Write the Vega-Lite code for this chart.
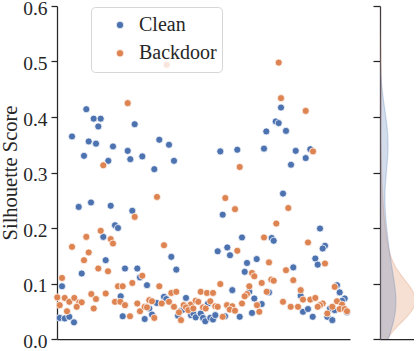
{
  "$schema": "https://vega.github.io/schema/vega-lite/v6.json",
  "autosize": {"type": "pad"},
  "padding": {"left": 0, "top": -2, "right": 0, "bottom": 0},
  "background": "white",
  "spacing": 30,
  "bounds": "flush",
  "config": {
    "font": "Liberation Serif",
    "view": {"stroke": null},
    "axis": {
      "grid": false,
      "domainColor": "#262626",
      "tickColor": "#262626",
      "labelColor": "#262626",
      "titleColor": "#262626",
      "domainWidth": 1.25,
      "tickWidth": 1.25,
      "labelFont": "Liberation Serif",
      "titleFont": "Liberation Serif",
      "labelFontSize": 19.5,
      "titleFontSize": 20.5,
      "titleFontWeight": "normal",
      "tickSize": 6,
      "labelPadding": 4,
      "titlePadding": 2
    }
  },
  "datasets": {
    "pts": [
      {"x":88.3,"y":0.414,"s":"Clean"},{"x":95.7,"y":0.397,"s":"Clean"},{"x":102.7,"y":0.397,"s":"Clean"},{"x":100.3,"y":0.383,"s":"Clean"},{"x":136.7,"y":0.387,"s":"Clean"},{"x":74,"y":0.365,"s":"Clean"},{"x":90.7,"y":0.356,"s":"Clean"},{"x":98,"y":0.352,"s":"Clean"},{"x":115,"y":0.347,"s":"Clean"},{"x":129.7,"y":0.339,"s":"Clean"},{"x":86,"y":0.330,"s":"Clean"},{"x":132.3,"y":0.324,"s":"Clean"},{"x":110.3,"y":0.321,"s":"Clean"},{"x":80.7,"y":0.238,"s":"Clean"},{"x":93,"y":0.246,"s":"Clean"},{"x":112.7,"y":0.240,"s":"Clean"},{"x":134.3,"y":0.231,"s":"Clean"},{"x":117,"y":0.205,"s":"Clean"},{"x":120,"y":0.200,"s":"Clean"},{"x":105.3,"y":0.184,"s":"Clean"},{"x":107.7,"y":0.142,"s":"Clean"},{"x":127,"y":0.127,"s":"Clean"},{"x":83.7,"y":0.118,"s":"Clean"},{"x":64,"y":0.095,"s":"Clean"},{"x":122.7,"y":0.077,"s":"Clean"},{"x":61.7,"y":0.038,"s":"Clean"},{"x":66.7,"y":0.037,"s":"Clean"},{"x":71.3,"y":0.040,"s":"Clean"},{"x":76,"y":0.030,"s":"Clean"},{"x":124.7,"y":0.041,"s":"Clean"},{"x":144.3,"y":0.329,"s":"Clean"},{"x":161.3,"y":0.359,"s":"Clean"},{"x":171,"y":0.350,"s":"Clean"},{"x":176,"y":0.321,"s":"Clean"},{"x":156.3,"y":0.306,"s":"Clean"},{"x":173.3,"y":0.148,"s":"Clean"},{"x":178.3,"y":0.125,"s":"Clean"},{"x":139.3,"y":0.127,"s":"Clean"},{"x":142,"y":0.111,"s":"Clean"},{"x":149,"y":0.097,"s":"Clean"},{"x":188,"y":0.074,"s":"Clean"},{"x":158.7,"y":0.065,"s":"Clean"},{"x":166,"y":0.076,"s":"Clean"},{"x":168.3,"y":0.072,"s":"Clean"},{"x":151.3,"y":0.055,"s":"Clean"},{"x":183,"y":0.051,"s":"Clean"},{"x":185.3,"y":0.053,"s":"Clean"},{"x":146.7,"y":0.036,"s":"Clean"},{"x":154,"y":0.044,"s":"Clean"},{"x":193,"y":0.043,"s":"Clean"},{"x":195.3,"y":0.046,"s":"Clean"},{"x":197.7,"y":0.039,"s":"Clean"},{"x":202.7,"y":0.046,"s":"Clean"},{"x":205,"y":0.038,"s":"Clean"},{"x":207.3,"y":0.032,"s":"Clean"},{"x":180,"y":0.042,"s":"Clean"},{"x":283,"y":0.417,"s":"Clean"},{"x":277.7,"y":0.392,"s":"Clean"},{"x":280.7,"y":0.389,"s":"Clean"},{"x":268.3,"y":0.374,"s":"Clean"},{"x":222.3,"y":0.338,"s":"Clean"},{"x":239.3,"y":0.341,"s":"Clean"},{"x":266,"y":0.343,"s":"Clean"},{"x":285,"y":0.262,"s":"Clean"},{"x":224.7,"y":0.224,"s":"Clean"},{"x":244,"y":0.183,"s":"Clean"},{"x":273.7,"y":0.182,"s":"Clean"},{"x":275.7,"y":0.177,"s":"Clean"},{"x":219.7,"y":0.158,"s":"Clean"},{"x":229.3,"y":0.165,"s":"Clean"},{"x":232,"y":0.151,"s":"Clean"},{"x":249,"y":0.137,"s":"Clean"},{"x":258.7,"y":0.144,"s":"Clean"},{"x":246.7,"y":0.121,"s":"Clean"},{"x":234.3,"y":0.088,"s":"Clean"},{"x":271,"y":0.084,"s":"Clean"},{"x":251.3,"y":0.085,"s":"Clean"},{"x":256.3,"y":0.073,"s":"Clean"},{"x":263.7,"y":0.063,"s":"Clean"},{"x":254,"y":0.047,"s":"Clean"},{"x":210,"y":0.064,"s":"Clean"},{"x":227,"y":0.041,"s":"Clean"},{"x":212.3,"y":0.038,"s":"Clean"},{"x":215,"y":0.035,"s":"Clean"},{"x":217.3,"y":0.043,"s":"Clean"},{"x":241.7,"y":0.040,"s":"Clean"},{"x":288,"y":0.375,"s":"Clean"},{"x":297.7,"y":0.339,"s":"Clean"},{"x":312.3,"y":0.342,"s":"Clean"},{"x":307.7,"y":0.326,"s":"Clean"},{"x":293,"y":0.314,"s":"Clean"},{"x":322,"y":0.199,"s":"Clean"},{"x":327,"y":0.168,"s":"Clean"},{"x":324.7,"y":0.163,"s":"Clean"},{"x":317.3,"y":0.145,"s":"Clean"},{"x":319.7,"y":0.134,"s":"Clean"},{"x":295.3,"y":0.129,"s":"Clean"},{"x":339,"y":0.097,"s":"Clean"},{"x":302.7,"y":0.078,"s":"Clean"},{"x":341.7,"y":0.084,"s":"Clean"},{"x":346.7,"y":0.073,"s":"Clean"},{"x":344,"y":0.069,"s":"Clean"},{"x":332,"y":0.055,"s":"Clean"},{"x":336.7,"y":0.052,"s":"Clean"},{"x":305,"y":0.049,"s":"Clean"},{"x":310,"y":0.054,"s":"Clean"},{"x":314.7,"y":0.040,"s":"Clean"},{"x":329.3,"y":0.040,"s":"Clean"},{"x":334.3,"y":0.034,"s":"Clean"},{"x":349,"y":0.048,"s":"Clean"},
      {"x":129.7,"y":0.425,"s":"Backdoor"},{"x":105.3,"y":0.313,"s":"Backdoor"},{"x":136.7,"y":0.220,"s":"Backdoor"},{"x":102.7,"y":0.195,"s":"Backdoor"},{"x":88.3,"y":0.184,"s":"Backdoor"},{"x":112.7,"y":0.180,"s":"Backdoor"},{"x":115,"y":0.172,"s":"Backdoor"},{"x":74,"y":0.166,"s":"Backdoor"},{"x":90.7,"y":0.156,"s":"Backdoor"},{"x":86,"y":0.142,"s":"Backdoor"},{"x":100.3,"y":0.127,"s":"Backdoor"},{"x":110,"y":0.122,"s":"Backdoor"},{"x":64,"y":0.110,"s":"Backdoor"},{"x":120,"y":0.095,"s":"Backdoor"},{"x":124.7,"y":0.095,"s":"Backdoor"},{"x":134.3,"y":0.101,"s":"Backdoor"},{"x":59.3,"y":0.075,"s":"Backdoor"},{"x":66.7,"y":0.074,"s":"Backdoor"},{"x":61.7,"y":0.061,"s":"Backdoor"},{"x":71.3,"y":0.067,"s":"Backdoor"},{"x":76.3,"y":0.074,"s":"Backdoor"},{"x":81.3,"y":0.066,"s":"Backdoor"},{"x":83.7,"y":0.066,"s":"Backdoor"},{"x":78.7,"y":0.058,"s":"Backdoor"},{"x":69,"y":0.050,"s":"Backdoor"},{"x":93.3,"y":0.081,"s":"Backdoor"},{"x":98,"y":0.072,"s":"Backdoor"},{"x":95.7,"y":0.055,"s":"Backdoor"},{"x":107.7,"y":0.082,"s":"Backdoor"},{"x":117,"y":0.067,"s":"Backdoor"},{"x":122.3,"y":0.067,"s":"Backdoor"},{"x":127,"y":0.061,"s":"Backdoor"},{"x":132,"y":0.041,"s":"Backdoor"},{"x":168.7,"y":0.494,"s":"Backdoor"},{"x":159,"y":0.256,"s":"Backdoor"},{"x":166,"y":0.169,"s":"Backdoor"},{"x":144.3,"y":0.114,"s":"Backdoor"},{"x":161.3,"y":0.095,"s":"Backdoor"},{"x":173.3,"y":0.083,"s":"Backdoor"},{"x":178.3,"y":0.085,"s":"Backdoor"},{"x":202.7,"y":0.085,"s":"Backdoor"},{"x":209,"y":0.083,"s":"Backdoor"},{"x":151.3,"y":0.070,"s":"Backdoor"},{"x":154,"y":0.068,"s":"Backdoor"},{"x":139.3,"y":0.064,"s":"Backdoor"},{"x":163.7,"y":0.064,"s":"Backdoor"},{"x":171,"y":0.067,"s":"Backdoor"},{"x":176,"y":0.058,"s":"Backdoor"},{"x":185.7,"y":0.061,"s":"Backdoor"},{"x":192.7,"y":0.062,"s":"Backdoor"},{"x":197.7,"y":0.069,"s":"Backdoor"},{"x":200.3,"y":0.067,"s":"Backdoor"},{"x":188,"y":0.057,"s":"Backdoor"},{"x":190.3,"y":0.052,"s":"Backdoor"},{"x":195.3,"y":0.055,"s":"Backdoor"},{"x":205,"y":0.057,"s":"Backdoor"},{"x":207.7,"y":0.055,"s":"Backdoor"},{"x":142,"y":0.050,"s":"Backdoor"},{"x":146.7,"y":0.058,"s":"Backdoor"},{"x":149,"y":0.057,"s":"Backdoor"},{"x":181,"y":0.048,"s":"Backdoor"},{"x":156.3,"y":0.038,"s":"Backdoor"},{"x":183,"y":0.034,"s":"Backdoor"},{"x":283,"y":0.434,"s":"Backdoor"},{"x":241.7,"y":0.310,"s":"Backdoor"},{"x":227.3,"y":0.254,"s":"Backdoor"},{"x":237,"y":0.234,"s":"Backdoor"},{"x":278.3,"y":0.208,"s":"Backdoor"},{"x":266,"y":0.183,"s":"Backdoor"},{"x":239.3,"y":0.159,"s":"Backdoor"},{"x":271,"y":0.138,"s":"Backdoor"},{"x":254,"y":0.119,"s":"Backdoor"},{"x":256.3,"y":0.113,"s":"Backdoor"},{"x":273.3,"y":0.107,"s":"Backdoor"},{"x":275.7,"y":0.105,"s":"Backdoor"},{"x":222.3,"y":0.099,"s":"Backdoor"},{"x":263.7,"y":0.101,"s":"Backdoor"},{"x":251.3,"y":0.095,"s":"Backdoor"},{"x":268.7,"y":0.085,"s":"Backdoor"},{"x":285,"y":0.067,"s":"Backdoor"},{"x":249,"y":0.081,"s":"Backdoor"},{"x":246.7,"y":0.077,"s":"Backdoor"},{"x":244,"y":0.064,"s":"Backdoor"},{"x":259,"y":0.061,"s":"Backdoor"},{"x":261.3,"y":0.049,"s":"Backdoor"},{"x":215,"y":0.083,"s":"Backdoor"},{"x":212.3,"y":0.068,"s":"Backdoor"},{"x":217.3,"y":0.059,"s":"Backdoor"},{"x":219.7,"y":0.058,"s":"Backdoor"},{"x":229,"y":0.061,"s":"Backdoor"},{"x":234.3,"y":0.059,"s":"Backdoor"},{"x":231.7,"y":0.053,"s":"Backdoor"},{"x":237,"y":0.051,"s":"Backdoor"},{"x":224.7,"y":0.040,"s":"Backdoor"},{"x":307.7,"y":0.411,"s":"Backdoor"},{"x":315,"y":0.338,"s":"Backdoor"},{"x":290.3,"y":0.236,"s":"Backdoor"},{"x":310,"y":0.174,"s":"Backdoor"},{"x":327,"y":0.136,"s":"Backdoor"},{"x":288,"y":0.124,"s":"Backdoor"},{"x":295.3,"y":0.106,"s":"Backdoor"},{"x":336.7,"y":0.094,"s":"Backdoor"},{"x":302.7,"y":0.088,"s":"Backdoor"},{"x":305,"y":0.071,"s":"Backdoor"},{"x":312.3,"y":0.071,"s":"Backdoor"},{"x":317.3,"y":0.074,"s":"Backdoor"},{"x":339,"y":0.068,"s":"Backdoor"},{"x":292.7,"y":0.058,"s":"Backdoor"},{"x":300,"y":0.058,"s":"Backdoor"},{"x":324.7,"y":0.064,"s":"Backdoor"},{"x":322,"y":0.061,"s":"Backdoor"},{"x":319.7,"y":0.058,"s":"Backdoor"},{"x":334.3,"y":0.058,"s":"Backdoor"},{"x":344,"y":0.062,"s":"Backdoor"},{"x":341.7,"y":0.054,"s":"Backdoor"},{"x":329.3,"y":0.046,"s":"Backdoor"},{"x":346.7,"y":0.054,"s":"Backdoor"},{"x":349,"y":0.050,"s":"Backdoor"},{"x":280.7,"y":0.498,"s":"Backdoor"}
    ]
  },
  "hconcat": [
    {
      "width": 293,
      "height": 333,
      "data": {"name": "pts"},
      "mark": {"type": "point", "filled": true, "size": 50, "stroke": "white", "strokeWidth": 0.75, "opacity": 1},
      "encoding": {
        "x": {"field": "x", "type": "quantitative", "scale": {"domain": [59, 352], "nice": false, "zero": false},
              "axis": {"title": null, "labels": false, "ticks": false}},
        "y": {"field": "y", "type": "quantitative", "scale": {"domain": [0, 0.6], "nice": false, "zero": false},
              "axis": {"title": "Silhouette Score", "values": [0, 0.1, 0.2, 0.3, 0.4, 0.5, 0.6], "format": ".1f", "labelOffset": 2}},
        "color": {"field": "s", "type": "nominal",
                  "scale": {"domain": ["Clean", "Backdoor"], "range": ["#4C72B0", "#DD8452"]},
                  "legend": {"title": null, "orient": "none", "legendX": 34, "legendY": 1,
                             "padding": 5, "strokeColor": "#d6d6d6", "cornerRadius": 4,
                             "fillColor": "rgba(255,255,255,0.8)", "symbolType": "circle",
                             "symbolSize": 55, "symbolStrokeColor": "white", "symbolStrokeWidth": 0.75,
                             "symbolOffset": 14, "labelOffset": 9, "labelFontSize": 20,
                             "labelFont": "Liberation Serif", "labelColor": "#262626",
                             "clipHeight": 26, "rowPadding": 2.3}}
      }
    },
    {
      "width": 34,
      "height": 333,
      "data": {"name": "pts"},
      "encoding": {
        "y": {"field": "value", "type": "quantitative", "scale": {"domain": [0, 0.6], "nice": false, "zero": false},
              "axis": {"title": null, "labels": false, "values": [0, 0.1, 0.2, 0.3, 0.4, 0.5, 0.6], "tickSize": 7}},
        "x": {"field": "density", "type": "quantitative", "scale": {"domain": [0, 880], "nice": false, "zero": true},
              "axis": {"title": null, "labels": false, "ticks": false}}
      },
      "layer": [
        {
          "transform": [
            {"filter": {"field": "s", "equal": "Backdoor"}},
            {"density": "y", "bandwidth": 0.035, "extent": [-0.1, 0.7], "steps": 300, "counts": true}
          ],
          "mark": {"type": "area", "orient": "horizontal", "clip": true, "fill": "#DD8452", "fillOpacity": 0.25,
                   "stroke": "#DD8452", "strokeOpacity": 0.25, "strokeWidth": 1.2}
        },
        {
          "transform": [
            {"filter": {"field": "s", "equal": "Clean"}},
            {"density": "y", "bandwidth": 0.05, "extent": [-0.1, 0.7], "steps": 300, "counts": true}
          ],
          "mark": {"type": "area", "orient": "horizontal", "clip": true, "fill": "#4C72B0", "fillOpacity": 0.25,
                   "stroke": "#4C72B0", "strokeOpacity": 0.25, "strokeWidth": 1.2}
        }
      ]
    }
  ],
  "resolve": {"scale": {"x": "independent", "y": "independent", "color": "independent"}, "legend": {"color": "independent"}}
}
